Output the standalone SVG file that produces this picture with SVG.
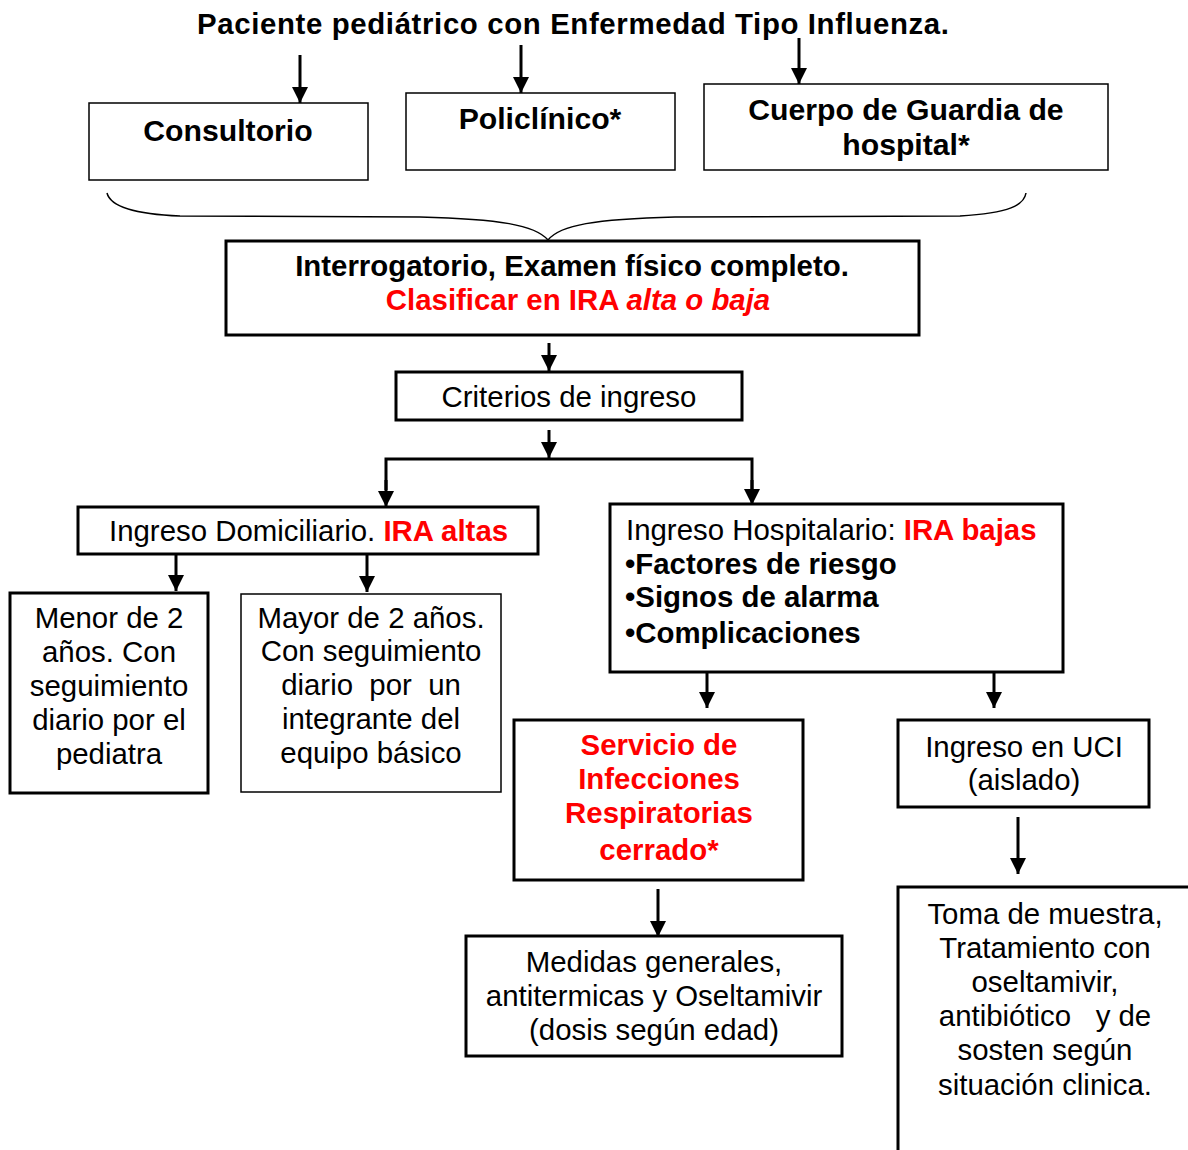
<svg xmlns="http://www.w3.org/2000/svg" width="1188" height="1150" viewBox="0 0 1188 1150">
<defs>
<marker id="ah" viewBox="0 0 10 10" refX="10" refY="5" markerWidth="5.5" markerHeight="5.5" markerUnits="strokeWidth" orient="auto"><path d="M0,0 L10,5 L0,10 z" fill="#000"/></marker>
<style>
text{font-family:"Liberation Sans",Arial,sans-serif;font-size:29.4px;fill:#000}
.b{font-weight:bold}
.t{font-size:30.2px}
.r{fill:#ff0000}
.c{text-anchor:middle}
.box{fill:#fff;stroke:#000;stroke-width:3}
.thin{fill:#fff;stroke:#000;stroke-width:1.5}
.ln{fill:none;stroke:#000;stroke-width:3}
.ar{fill:none;stroke:#000;stroke-width:3;marker-end:url(#ah)}
</style>
</defs>
<rect width="1188" height="1150" fill="#fff"/>
<text id="title" class="b c" x="573" y="34" textLength="752">Paciente pediátrico con Enfermedad Tipo Influenza.</text>
<g id="connectors">
<line class="ar" x1="300" y1="55" x2="300" y2="103"/>
<line class="ar" x1="521" y1="45" x2="521" y2="93"/>
<line class="ar" x1="799" y1="38" x2="799" y2="84"/>
<path d="M107,193 C110,205 130,214 180,216 L420,217 C500,219 535,225 548,240 C560,225 595,219 675,217 L960,216 C1010,213 1024,205 1026,193" fill="none" stroke="#000" stroke-width="1.5"/>
<line class="ar" x1="549" y1="343" x2="549" y2="371"/>
<line class="ar" x1="549" y1="430" x2="549" y2="458"/>
<polyline class="ln" points="386,490 386,459 752,459 752,490"/>
<line class="ar" x1="386" y1="480" x2="386" y2="507"/>
<line class="ar" x1="752" y1="480" x2="752" y2="505"/>
<line class="ar" x1="176" y1="555" x2="176" y2="591"/>
<line class="ar" x1="367" y1="555" x2="367" y2="592"/>
<line class="ar" x1="707" y1="673" x2="707" y2="708"/>
<line class="ar" x1="994" y1="673" x2="994" y2="708"/>
<line class="ar" x1="1018" y1="817" x2="1018" y2="874"/>
<line class="ar" x1="658" y1="889" x2="658" y2="937"/>
</g>
<g id="consultorio"><rect class="thin" x="89" y="103" width="279" height="77"/><text class="b c t" x="228" y="141">Consultorio</text></g>
<g id="policlinico"><rect class="thin" x="406" y="93" width="269" height="77"/><text class="b c t" x="540" y="129">Policlínico*</text></g>
<g id="guardia"><rect class="thin" x="704" y="84" width="404" height="86"/><text class="b c t" x="906" y="120">Cuerpo de Guardia de</text><text class="b c t" x="906" y="155">hospital*</text></g>
<g id="interrogatorio"><rect class="box" x="226" y="241" width="693" height="94"/><text class="b c" x="572" y="276">Interrogatorio, Examen físico completo.</text><text class="b c r" x="578" y="310">Clasificar en IRA <tspan font-style="italic">alta o baja</tspan></text></g>
<g id="criterios"><rect class="box" x="396" y="372" width="346" height="48"/><text class="c" x="569" y="407">Criterios de ingreso</text></g>
<g id="domiciliario"><rect class="box" x="78" y="507" width="460" height="47"/><text x="109" y="541">Ingreso Domiciliario. <tspan class="b r">IRA altas</tspan></text></g>
<g id="menor"><rect class="box" x="10" y="593" width="198" height="200"/>
<text class="c" x="109" y="628">Menor de 2</text><text class="c" x="109" y="662">años. Con</text><text class="c" x="109" y="696">seguimiento</text><text class="c" x="109" y="730">diario por el</text><text class="c" x="109" y="764">pediatra</text></g>
<g id="mayor"><rect class="thin" x="241" y="594" width="260" height="198"/>
<text class="c" x="371" y="628">Mayor de 2 años.</text><text class="c" x="371" y="661">Con seguimiento</text><text class="c" x="371" y="695" xml:space="preserve">diario  por  un</text><text class="c" x="371" y="729">integrante del</text><text class="c" x="371" y="763">equipo básico</text></g>
<g id="hospitalario"><rect class="box" x="610" y="504" width="453" height="168"/>
<text x="626" y="540">Ingreso Hospitalario: <tspan class="b r">IRA bajas</tspan></text>
<text class="b" x="625" y="574">•Factores de riesgo</text><text class="b" x="625" y="607">•Signos de alarma</text><text class="b" x="625" y="643">•Complicaciones</text></g>
<g id="servicio"><rect class="box" x="514" y="720" width="289" height="160"/>
<text class="b c r" x="659" y="755">Servicio de</text><text class="b c r" x="659" y="789">Infecciones</text><text class="b c r" x="659" y="823">Respiratorias</text><text class="b c r" x="659" y="860">cerrado*</text></g>
<g id="uci"><rect class="box" x="898" y="720" width="251" height="87"/><text class="c" x="1024" y="757">Ingreso en UCI</text><text class="c" x="1024" y="790">(aislado)</text></g>
<g id="toma"><rect class="box" x="898" y="887" width="320" height="300"/>
<text class="c" x="1045" y="924">Toma de muestra,</text><text class="c" x="1045" y="958">Tratamiento con</text><text class="c" x="1045" y="992">oseltamivir,</text><text class="c" x="1045" y="1026" xml:space="preserve">antibiótico   y de</text><text class="c" x="1045" y="1060">sosten según</text><text class="c" x="1045" y="1095">situación clinica.</text></g>
<g id="medidas"><rect class="box" x="466" y="936" width="376" height="120"/>
<text class="c" x="654" y="972">Medidas generales,</text><text class="c" x="654" y="1006">antitermicas y Oseltamivir</text><text class="c" x="654" y="1040">(dosis según edad)</text></g>
</svg>
